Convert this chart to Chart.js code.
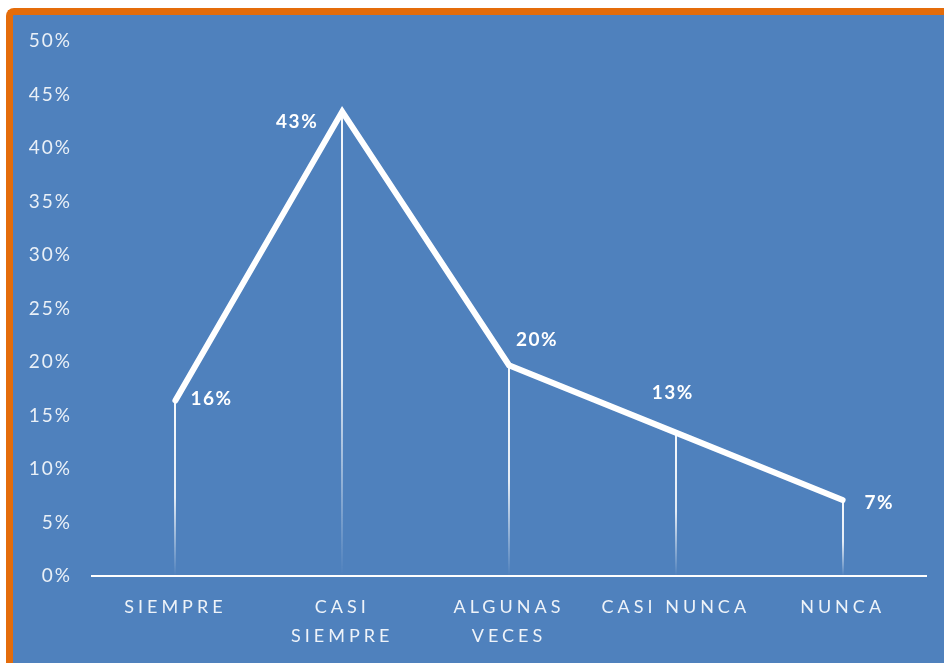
<!DOCTYPE html>
<html>
<head>
<meta charset="utf-8">
<script src="https://cdn.jsdelivr.net/npm/chart.js@4/dist/chart.umd.min.js"></script>
<style>
  html, body { margin: 0; padding: 0; background: #ffffff; width: 944px; height: 663px; overflow: hidden; }
  #frame { position: absolute; left: 6px; top: 8px; width: 938px; height: 655px; box-sizing: border-box;
           border-left: 7px solid #E46C0A; border-top: 7px solid #E46C0A; border-top-left-radius: 8px; background: #4F81BD; }
  #c { position: absolute; left: 0; top: 0; }
</style>
</head>
<body>
<div id="frame"></div>
<canvas id="c" width="944" height="663"></canvas>
<script>
// ---- data ----
const categories = [['SIEMPRE'], ['CASI', 'SIEMPRE'], ['ALGUNAS', 'VECES'], ['CASI NUNCA'], ['NUNCA']];
const values = [16.4, 43.4, 19.7, 13.4, 7.1];
const yTickValues = [0, 5, 10, 15, 20, 25, 30, 35, 40, 45, 50];

// label placement per point (style only)
const labelPlacement = [
  { dx: 15, dy: -2, align: 'left' },
  { dx: -24, dy: 10, align: 'right' },
  { dx: 7, dy: -25, align: 'left' },
  { dx: -3, dy: -40, align: 'center' },
  { dx: 22, dy: 3, align: 'left' }
];

const dropLines = {
  id: 'dropLines',
  beforeDatasetsDraw(chart) {
    const ctx = chart.ctx;
    const meta = chart.getDatasetMeta(0);
    const yBase = chart.scales.y.getPixelForValue(0);
    ctx.save();
    meta.data.forEach(pt => {
      const g = ctx.createLinearGradient(0, pt.y, 0, yBase);
      g.addColorStop(0, 'rgba(255,255,255,0.95)');
      g.addColorStop(0.55, 'rgba(255,255,255,0.85)');
      g.addColorStop(1, 'rgba(255,255,255,0.0)');
      ctx.strokeStyle = g;
      ctx.lineWidth = 2;
      ctx.beginPath();
      ctx.moveTo(Math.round(pt.x), pt.y);
      ctx.lineTo(Math.round(pt.x), yBase);
      ctx.stroke();
    });
    ctx.restore();
  }
};

const dataLabels = {
  id: 'dataLabels',
  afterDatasetsDraw(chart) {
    const ctx = chart.ctx;
    const meta = chart.getDatasetMeta(0);
    ctx.save();
    ctx.font = 'bold 19px Lato, "Open Sans", sans-serif';
    ctx.letterSpacing = '1.5px';
    ctx.fillStyle = '#ffffff';
    ctx.textBaseline = 'middle';
    meta.data.forEach((pt, i) => {
      const p = labelPlacement[i];
      ctx.textAlign = p.align;
      ctx.fillText(Math.round(values[i]) + '%', pt.x + p.dx, pt.y + p.dy);
    });
    ctx.restore();
  }
};

function wrapLabels(scale, spacing) {
  if (scale._spacedWrapped) return;
  const orig = scale.drawLabels;
  scale.drawLabels = function (area) {
    this.ctx.save();
    this.ctx.letterSpacing = spacing;
    orig.call(this, area);
    this.ctx.restore();
  };
  scale._spacedWrapped = true;
}

const spacedLabels = {
  id: 'spacedLabels',
  beforeDraw(chart) {
    wrapLabels(chart.scales.x, '4px');
    wrapLabels(chart.scales.y, '2px');
  }
};

new Chart(document.getElementById('c'), {
  type: 'line',
  data: {
    labels: categories,
    datasets: [{
      data: values,
      borderColor: '#ffffff',
      borderWidth: 6,
      borderCapStyle: 'round',
      borderJoinStyle: 'miter',
      pointRadius: 0,
      tension: 0,
      fill: false
    }]
  },
  options: {
    responsive: false,
    animation: false,
    layout: { padding: { top: 41, right: 18, left: 0, bottom: 0 } },
    plugins: { legend: { display: false }, tooltip: { enabled: false } },
    scales: {
      x: {
        offset: true,
        grid: { display: false, drawTicks: false },
        border: { display: true, color: '#ffffff', width: 2 },
        ticks: {
          color: 'rgba(255,255,255,0.9)',
          font: { family: 'Lato, "Open Sans", sans-serif', size: 18, lineHeight: 1.6 },
          padding: 17,
          maxRotation: 0,
          autoSkip: false
        },
        afterFit(s) { s.height = 87; }
      },
      y: {
        min: 0, max: 50,
        afterBuildTicks(s) { s.ticks = yTickValues.map(v => ({ value: v })); },
        grid: { display: false, drawTicks: false },
        border: { display: false },
        ticks: {
          color: 'rgba(255,255,255,0.88)',
          font: { family: 'Lato, "Open Sans", sans-serif', size: 19 },
          padding: 20,
          callback: v => v + '%'
        },
        afterFit(s) { s.width = 92; }
      }
    }
  },
  plugins: [dropLines, dataLabels, spacedLabels]
});
</script>
</body>
</html>
